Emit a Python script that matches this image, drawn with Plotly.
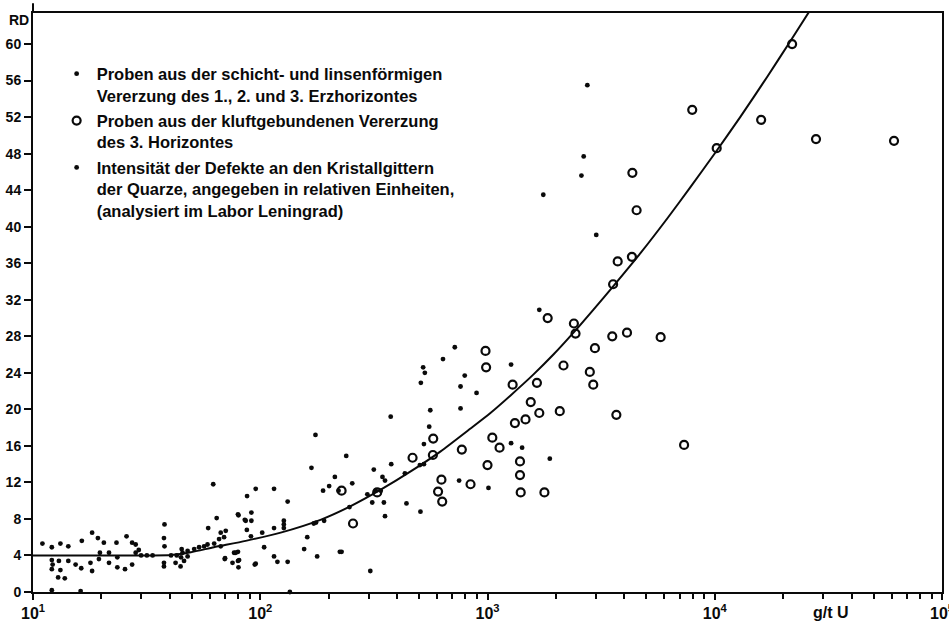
import plotly.graph_objects as go

# Ore samples from the bedded and lens-shaped mineralisation (g/t U, RD)
dots_x = [11.0, 12.1, 13.2, 14.3, 16.4, 18.2, 19.3, 20.5, 23.3, 25.8, 27.3, 28.3, 37.9, 37.7, 37.9, 45.1,
          12.1, 12.2, 12.1, 13.0, 13.2, 12.9, 13.8, 14.3, 15.4, 16.3, 17.9, 18.2, 19.5, 19.7, 21.6, 21.6,
          23.5, 23.5, 25.4, 27.3, 28.3, 29.2, 37.7, 37.7, 42.4, 44.6, 12.1, 16.2,
          29.9, 31.7, 33.6, 40.5, 42.9,
          62.1, 64.3, 59.0, 56.6, 67.0, 69.3, 62.7, 67.0, 69.8, 80.2, 86.3, 91.4, 87.5, 91.4, 87.3, 79.8,
          79.8, 75.5, 80.2, 95.5, 95.5, 104, 115, 115, 115, 119, 127, 127, 127, 132, 132, 156, 161, 175,
          168, 178, 176, 213, 201, 189, 221, 79.8, 85.5, 70.5,
          65.9, 53.8, 51.2, 47.9, 45.5, 58.6, 44.8, 46.2, 47.9, 70.0, 76.7, 78.0, 80.7, 94.6, 191, 224,
          135, 91, 102,
          239, 254, 316, 377, 345, 354, 311, 350, 354, 440, 507, 433, 504, 750, 1010, 228, 305, 375, 560,
          554, 525, 718, 637, 521, 530, 509, 794, 761, 895, 761, 525, 172, 247, 296, 322, 339,
          1270, 1690, 1270, 1420, 1880, 2750, 2650, 2590, 1760, 3010]
dots_y = [5.3, 4.9, 5.3, 5.0, 5.6, 6.5, 5.9, 5.4, 5.4, 6.1, 5.4, 5.2, 7.4, 5.9, 5.0, 4.7,
          3.5, 3.0, 2.5, 3.4, 2.4, 1.6, 1.5, 3.4, 3.0, 2.6, 3.2, 2.3, 3.6, 4.3, 4.3, 3.2,
          3.8, 2.7, 2.5, 3.0, 4.3, 4.6, 3.2, 2.8, 3.2, 2.8, 0.2, 0.1,
          4.0, 4.0, 4.0, 4.0, 4.0,
          11.8, 8.1, 7.0, 5.0, 6.5, 6.0, 5.3, 5.0, 3.6, 8.4, 7.8, 7.8, 10.5, 8.7, 6.8, 4.4,
          3.4, 3.2, 2.7, 11.3, 3.1, 4.9, 11.3, 7.0, 3.9, 3.3, 7.8, 7.4, 7.0, 9.9, 3.3, 4.7, 6.0, 17.2,
          13.6, 3.9, 7.6, 12.6, 11.6, 11.1, 11.1, 8.5, 7.9, 6.7,
          5.8, 4.9, 4.7, 4.5, 4.3, 5.2, 3.8, 3.4, 3.9, 3.7, 4.3, 4.3, 3.5, 3.0, 7.8, 4.4,
          0.0, 6.1, 6.5,
          14.9, 11.9, 13.4, 14.0, 12.6, 12.2, 9.8, 9.8, 8.3, 9.7, 8.8, 13.0, 13.9, 12.2, 11.4, 4.4, 2.3, 19.2, 19.9,
          18.1, 16.2, 26.8, 25.5, 24.6, 24.0, 22.9, 23.7, 22.5, 21.8, 20.1, 14.0, 7.5, 9.3, 10.7, 11.1, 11.1,
          24.9, 30.9, 16.3, 15.8, 14.6, 55.5, 47.7, 45.6, 43.5, 39.1]

# Samples from the fissure-bound mineralisation of the 3rd horizon
circles_x = [228, 256, 327, 468, 575, 577, 627, 606, 632, 771, 842, 980, 986, 1000, 1050, 1130,
             1290, 1320, 1390, 1390, 1400, 1470, 1550, 1650, 1690, 1780, 1840, 2080, 2160, 2400,
             2440, 2820, 2920, 2970, 3540, 3570, 3690, 3740, 4110, 4320, 4340, 4530, 5780, 7330,
             7960, 10200, 16000, 21900, 27900, 61500]
circles_y = [11.1, 7.5, 10.9, 14.7, 15.0, 16.8, 12.3, 11.0, 9.9, 15.6, 11.8, 26.4, 24.6, 13.9, 16.9, 15.8,
             22.7, 18.5, 14.3, 12.8, 10.9, 18.9, 20.8, 22.9, 19.6, 10.9, 30.0, 19.8, 24.8, 29.4,
             28.3, 24.1, 22.7, 26.7, 28.0, 33.7, 19.4, 36.2, 28.4, 36.7, 45.9, 41.8, 27.9, 16.1,
             52.8, 48.6, 51.7, 60.0, 49.6, 49.4]

# Trend curve of RD against uranium content
curve_x = [10, 19.9, 33.0, 40.5, 49.5, 62.5, 86.3, 123, 184, 250, 339, 459, 622, 842, 1030,
           1260, 1590, 1950, 2390, 2920, 3580, 4710, 6180, 7800, 10050, 12940, 17000, 21500, 27700]
curve_y = [4.0, 4.0, 4.0, 4.05, 4.35, 4.9, 5.6, 6.5, 7.9, 9.4, 11.2, 13.2, 15.4, 17.9, 19.6,
           21.5, 23.8, 26.0, 28.4, 30.9, 33.5, 37.1, 40.9, 44.3, 48.1, 52.0, 56.4, 60.3, 64.6]

x_ticks = [10, 100, 1000, 10000, 100000]
x_ticktext = ["10<sup>1</sup>", "10<sup>2</sup>", "10<sup>3</sup>", "10<sup>4</sup>", "10<sup>5</sup>"]
y_ticks = list(range(0, 61, 4))

legend_texts = [
    "Proben aus der schicht- und linsenförmigen<br>Vererzung des 1., 2. und 3. Erzhorizontes",
    "Proben aus der kluftgebundenen Vererzung<br>des 3. Horizontes",
    "Intensität der Defekte an den Kristallgittern<br>der Quarze, angegeben in relativen Einheiten,<br>(analysiert im Labor Leningrad)",
]

INK = "#0a0a0a"
FONT = "Arial, Liberation Sans, sans-serif"

fig = go.Figure()

fig.add_trace(go.Scatter(
    x=curve_x, y=curve_y, mode="lines", line=dict(color=INK, width=2, shape="spline", smoothing=0.6),
    showlegend=False, hoverinfo="skip"))

fig.add_trace(go.Scatter(
    x=dots_x, y=dots_y, mode="markers", name=legend_texts[0], legendgroup="g1",
    marker=dict(symbol="circle", size=4.8, color=INK, line=dict(width=0)), cliponaxis=False))

fig.add_trace(go.Scatter(
    x=circles_x, y=circles_y, mode="markers", name=legend_texts[1], legendgroup="g2",
    marker=dict(symbol="circle-open", size=8, color=INK, line=dict(width=2.2, color=INK))))

fig.add_trace(go.Scatter(
    x=[None], y=[None], mode="markers", name=legend_texts[2], legendgroup="g3",
    marker=dict(symbol="circle", size=4.8, color=INK)))

minor_vals = [k * 10 ** n for n in range(1, 5) for k in range(2, 10)]

fig.update_layout(
    width=949, height=631,
    margin=dict(l=33, r=7, t=13, b=39, autoexpand=False),
    paper_bgcolor="white", plot_bgcolor="white",
    font=dict(family=FONT, color=INK),
    legend=dict(
        x=0.026, y=0.925, xanchor="left", yanchor="top",
        bgcolor="rgba(0,0,0,0)", borderwidth=0,
        font=dict(family=FONT, size=16.5, color=INK, weight="bold"),
        valign="top", tracegroupgap=1, itemwidth=30,
    ),
    xaxis=dict(
        type="log", range=[1, 5], tickvals=x_ticks, ticktext=x_ticktext,
        showgrid=False, zeroline=False, showline=True, linewidth=2, linecolor=INK, mirror=True,
        ticks="outside", ticklen=6, tickwidth=1.5, tickcolor=INK,
        tickfont=dict(family=FONT, size=16, color=INK, weight="bold"),
        ticklabeloverflow="allow", automargin=False,
        minor=dict(tickmode="array", tickvals=minor_vals, ticks="outside", ticklen=5,
                   tickwidth=1.5, tickcolor=INK, showgrid=False),
    ),
    yaxis=dict(
        range=[0, 63.4], tickvals=y_ticks, automargin=False,
        showgrid=False, zeroline=False, showline=True, linewidth=2, linecolor=INK, mirror=True,
        ticks="outside", ticklen=7, tickwidth=1.5, tickcolor=INK,
        tickfont=dict(family=FONT, size=14, color=INK, weight="bold"),
    ),
    shapes=[
        # short extension of the value axis above the frame
        dict(type="line", xref="paper", yref="paper", x0=0, x1=0, y0=1, y1=1.017,
             line=dict(color=INK, width=2)),
    ],
    annotations=[
        dict(text="RD", xref="paper", x=0, xanchor="right", xshift=-2,
             yref="y", y=62.6, yanchor="middle", showarrow=False,
             font=dict(family=FONT, size=14, color=INK, weight="bold")),
        dict(text="g/t U", xref="x", x=4.51, xanchor="center",
             yref="paper", y=0, yanchor="top", yshift=-10, showarrow=False,
             font=dict(family=FONT, size=16, color=INK, weight="bold")),
    ],
)

fig.write_html("out.html")
